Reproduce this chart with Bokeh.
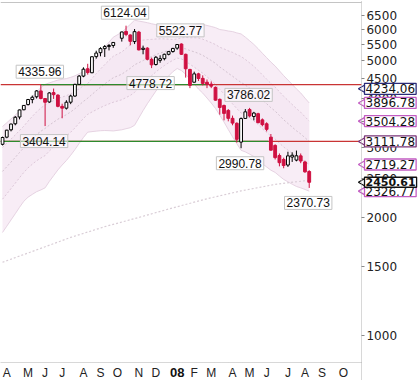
import numpy as np
import pandas as pd
from bokeh.plotting import figure
from bokeh.models import Range1d, FixedTicker, NumeralTickFormatter, Label, LinearAxis, LogAxis
from bokeh.embed import file_html
from bokeh.resources import INLINE

# Weekly bars, one per Monday from 2007-03-26 to 2008-08-11 (week 27 = golden week, no trading)
week_start = pd.Timestamp("2007-03-26")
weeks = pd.date_range(week_start, "2008-08-11", freq="7D")
nan = np.nan

opens = [3060, 3190, 3330, 3450, 3590, 3745, 3860, 3975, 4040, 4181,
         4000, 3920, 4140, 4080, 3820, 3780, 3914, 4058, 4345, 4560,
         4760, 4650, 5110, 5230, 5355, 5420, 5454, nan, 5690, 5920,
         5800, 5580, 5900, 5330, 5370, 5030, 4880, 5000, 5050, 5180,
         5265, 5370, 5500, 5180, 4740, 4400, 4620, 4500, 4400, 4350,
         4270, 3980, 3840, 3730, 3562, 3460, 3100, 3560, 3750, 3600,
         3660, 3530, 3450, 3190, 3040, 2866, 2800, 2710, 2840, 2790,
         2860, 2760, 2610]
highs = [3200, 3330, 3450, 3610, 3750, 3850, 3990, 4070, 4200, 4335.96,
         4010, 4150, 4240, 4100, 3880, 3960, 4090, 4360, 4590, 4800,
         4900, 5110, 5290, 5400, 5470, 5500, 5560, nan, 5913, 6124.04,
         5820, 6005, 5940, 5450, 5400, 5080, 5130, 5150, 5200, 5280,
         5380, 5500, 5522.77, 5200, 4760, 4680, 4650, 4580, 4470, 4420,
         4290, 4000, 3860, 3760, 3620, 3480, 3580, 3760, 3786.02, 3700,
         3680, 3560, 3480, 3250, 3060, 2900, 2830, 2930, 2920, 2950,
         2900, 2780, 2630]
lows = [3040, 3170, 3300, 3420, 3540, 3735, 3840, 3890, 4000, 3980,
        3404.14, 3900, 3990, 3800, 3563, 3750, 3870, 4040, 4330, 4530,
        4600, 4640, 5050, 5120, 5100, 5300, 5380, nan, 5580, 5760,
        5460, 5500, 5300, 5180, 5000, 4778.72, 4850, 4930, 5000, 5150,
        5230, 5320, 5160, 4520, 4250, 4390, 4430, 4320, 4250, 4250,
        3950, 3640, 3520, 3500, 3420, 3090, 2990.78, 3550, 3580, 3520,
        3460, 3400, 3300, 2950, 2800, 2690, 2660, 2680, 2760, 2770,
        2740, 2590, 2370.73]
closes = [3184, 3324, 3445, 3584, 3741, 3841, 3976, 4030, 4181, 4000,
          3913, 4132, 4091, 3820, 3781, 3914, 4058, 4345, 4560, 4749,
          4656, 5107, 5218, 5355, 5421, 5454, 5552, nan, 5903, 5818,
          5589, 5914, 5316, 5368, 5032, 4871, 5091, 5050, 5180, 5262,
          5361, 5485, 5180, 4760, 4320, 4620, 4497, 4370, 4348, 4300,
          3962, 3796, 3666, 3562, 3464, 3150, 3557, 3700, 3613, 3674,
          3473, 3433, 3340, 2957, 2831, 2748, 2703, 2860, 2870, 2861,
          2775, 2605, 2450.61]

# 20-week Bollinger middle line and standard deviation
bb_mid = [2611, 2683, 2758, 2835, 2917, 2999, 3086, 3163, 3239, 3303,
          3358, 3423, 3483, 3544, 3593, 3639, 3698, 3767, 3850, 3933,
          4007, 4096, 4185, 4273, 4357, 4438, 4517, nan, 4611, 4692,
          4772, 4872, 4931, 4995, 5056, 5110, 5169, 5218, 5260, 5295,
          5326, 5367, 5371, 5348, 5296, 5256, 5208, 5149, 5072, 4996,
          4914, 4808, 4726, 4636, 4557, 4471, 4395, 4327, 4249, 4169,
          4075, 3972, 3880, 3790, 3716, 3622, 3532, 3457, 3383, 3311,
          3252, 3180, 3111.78]
bb_sigma = [392, 394, 396, 398, 400, 403, 420, 440, 460, 480,
            493, 480, 468, 455, 441, 428, 414, 400, 387, 374,
            361, 400, 440, 480, 520, 562, 604, nan, 640, 670,
            700, 726, 680, 634, 588, 542, 496, 453, 410, 366,
            323, 300, 330, 370, 410, 450, 490, 510, 530, 550,
            570, 590, 620, 650, 680, 700, 720, 700, 680, 660,
            640, 620, 600, 580, 560, 540, 520, 500, 480, 460,
            440, 415, 392.5]

# long-term average (dotted)
long_avg_week = [0, 8, 16, 24, 32, 40, 48, 56, 64, 72]
long_avg = [1535, 1650, 1775, 1890, 1995, 2110, 2225, 2330, 2420, 2480]

# marked highs / lows
mark_week = [29, 42, 9, 58, 35, 10, 56, 72]
mark_value = [6124.04, 5522.77, 4335.96, 3786.02, 4778.72, 3404.14, 2990.78, 2370.73]
mark_above = [True, True, True, True, False, False, False, False]

# horizontal levels (red over the whole chart, green trend segments)
level_red = [4335.96, 3111.78]
green_levels = [4335.96, 3111.78]
green_from = [9, -0.47]
green_to = [48.2, 62.4]

# price tags on the right scale
tag_values = [4234.06, 3896.78, 3504.28, 3111.78, 2719.27, 2326.77, 2450.61]
tag_colors = ["#2b2b78", "#c25cc2", "#c25cc2", "#7a3478", "#c25cc2", "#c25cc2", "#111111"]
tag_bold = [False, False, False, False, False, False, True]

price_ticks = [1000, 1500, 2000, 2500, 3000, 3500, 4000, 4500, 5000, 5500, 6000, 6500]
month_labels = ["A", "M", "J", "J", "A", "S", "O", "N", "D", "08", "F", "M",
                "A", "M", "J", "J", "A", "S", "O"]
month_starts = pd.date_range("2007-04-01", "2008-10-01", freq="MS")

idx = np.arange(len(weeks))
o = np.array(opens, float); h = np.array(highs, float)
l = np.array(lows, float); c = np.array(closes, float)
ok = ~np.isnan(c)
up = ok & (c >= o)
dn = ok & (c < o)

# tick position: week containing the first Monday of each month
def first_monday(d):
    return d + pd.Timedelta(days=(7 - d.weekday()) % 7)
month_pos = [(first_monday(d) - week_start).days / 7 for d in month_starts]

# chart window: weeks -0.47 .. 84.27 are the price panel, the rest holds the scale
X0, X_END, X_MAX = -0.47, 84.27, 98.12
Y_MIN, Y_BOTTOM, Y_TOP, Y_MAX = 768.6, 854.1, 7013, 7096

FONT = "Liberation Sans"
RED = "#cf1142"

p = figure(width=420, height=380, y_axis_type="log",
           x_axis_location=None, y_axis_location=None,
           x_range=Range1d(X0, X_MAX), y_range=Range1d(Y_MIN, Y_MAX),
           output_backend="svg", toolbar_location=None,
           min_border=0)
p.background_fill_color = "white"
p.border_fill_color = "white"
p.outline_line_color = None
p.grid.visible = False

# Bollinger band
m = np.array(bb_mid, float); s = np.array(bb_sigma, float)
bx = idx[ok]; bm = m[ok]; bs = s[ok]
p.varea(x=bx, y1=bm - 2 * bs, y2=bm + 2 * bs, fill_color="#f8edf6")
p.varea(x=bx, y1=bm - bs, y2=bm + bs, fill_color="#f5e8f3")
for k in (2, -2):
    p.line(bx, bm + k * bs, line_color="#e6d3e2", line_width=1)
for k in (1, -1):
    p.line(bx, bm + k * bs, line_color="#ddc8d9", line_width=1, line_dash="2 2")
p.line(bx, bm, line_color="#d4c4d1", line_width=1, line_dash="2 2")
p.line(long_avg_week, long_avg, line_color="#d9cdd6", line_width=1.2, line_dash="2 2")

# level lines
for v in level_red:
    p.line([X0, X_END], [v, v], line_color="#c93434", line_width=1.3)
for v, a, b in zip(green_levels, green_from, green_to):
    p.line([a, b], [v, v], line_color="#2d8a2d", line_width=1.3)

# candles
p.segment(idx[up], l[up], idx[up], h[up], line_color="black", line_width=1)
p.segment(idx[dn], l[dn], idx[dn], h[dn], line_color=RED, line_width=1)
p.vbar(x=idx[up], width=0.66, bottom=o[up], top=c[up],
       fill_color="white", line_color="black", line_width=1)
p.vbar(x=idx[dn], width=0.66, bottom=c[dn], top=o[dn],
       fill_color=RED, line_color=RED, line_width=1)

# high / low markers
for w, v, above in zip(mark_week, mark_value, mark_above):
    p.add_layout(Label(x=w, y=v, text=f"{v:.2f}", x_offset=-1,
                       y_offset=13 if above else -15,
                       text_align="center", text_baseline="middle",
                       text_font=FONT, text_font_size="12px", text_color="#111111",
                       background_fill_color="white", background_fill_alpha=0.55,
                       border_line_color="#c4c4c4", padding=2))

# price scale on the right edge of the panel
ya = LogAxis(fixed_location=X_END, bounds=(Y_MIN, Y_MAX))
ya.ticker = FixedTicker(ticks=price_ticks, minor_ticks=[])
ya.formatter = NumeralTickFormatter(format="0")
ya.axis_line_color = "#b0b0b0"
ya.axis_line_dash = "1 1"
ya.major_tick_line_color = "#888888"
ya.major_tick_out = 3
ya.major_tick_in = 0
ya.major_label_standoff = 2
ya.major_label_text_font = "DejaVu Sans"
ya.major_label_text_font_size = "12px"
ya.major_label_text_color = "#222222"
p.add_layout(ya, "right")

# month scale
xa = LinearAxis(fixed_location=Y_BOTTOM, bounds=(X0, X_END))
xa.ticker = FixedTicker(ticks=month_pos, minor_ticks=[])
xa.major_label_overrides = {pos: ("" if lab == "08" else lab)
                            for pos, lab in zip(month_pos, month_labels)}
xa.axis_line_color = "#b0b0b0"
xa.axis_line_dash = "1 1"
xa.major_tick_out = 0
xa.major_tick_in = 0
xa.major_label_standoff = 4
xa.major_label_text_font = FONT
xa.major_label_text_font_size = "12px"
xa.major_label_text_color = "#222222"
p.add_layout(xa, "below")

# top border of the panel
ta = LinearAxis(fixed_location=Y_TOP, bounds=(X0, X_END))
ta.ticker = FixedTicker(ticks=[], minor_ticks=[])
ta.axis_line_color = "#c4c4c4"
ta.major_tick_out = 0
ta.major_tick_in = 0
ta.major_label_text_font_size = "0px"
p.add_layout(ta, "above")

for pos, lab in zip(month_pos, month_labels):
    if lab == "08":
        p.add_layout(Label(x=pos, y=Y_BOTTOM, text=lab, y_offset=-10,
                           text_align="center", text_baseline="middle",
                           text_font=FONT, text_font_size="13px",
                           text_font_style="bold", text_color="#111111"))

# right-hand price tags (pointer + boxed value)
p.scatter([X_END + 0.35] * len(tag_values), tag_values, marker="triangle", angle=np.pi / 2,
          size=8, fill_color="white", line_color=tag_colors, line_width=1.2)
for v, col, bold in zip(tag_values, tag_colors, tag_bold):
    p.add_layout(Label(x=364, x_units="screen", y=v, text=f"{v:.2f}",
                       text_align="left", text_baseline="middle",
                       text_font="DejaVu Sans",
                       text_font_size="11px" if bold else "12px",
                       text_font_style="bold" if bold else "normal",
                       text_color="#111111",
                       background_fill_color="white", background_fill_alpha=1.0,
                       border_line_color=col, border_line_width=1.3, padding=1))

open("out.html", "w").write(file_html(p, INLINE))
